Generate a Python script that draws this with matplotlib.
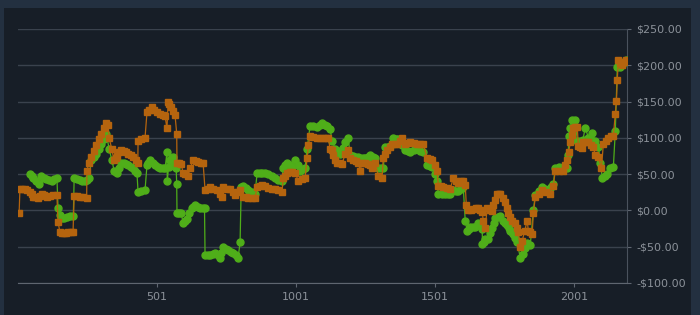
import matplotlib.pyplot as plt
from matplotlib.patches import Rectangle
from matplotlib.ticker import FuncFormatter

# -----------------------------
# data: (index, dollars)
# -----------------------------
orange_pts = [
    (5, -4), (8, 30), (15, 30), (26, 29), (35, 28), (44, 26), (50, 22), (55, 18),
    (63, 18), (73, 17), (80, 20), (87, 22), (95, 21), (105, 19), (116, 20),
    (128, 21), (141, 21), (145, -16), (152, -30), (160, -31), (167, -31),
    (174, -31), (182, -30), (190, -30), (199, -30), (203, 20), (212, 20),
    (224, 19), (236, 18), (248, 17), (249, 55), (256, 65), (264, 73), (273, 82),
    (282, 90), (291, 98), (300, 106), (309, 113), (318, 120), (325, 118),
    (329, 100), (338, 85), (347, 69), (352, 72), (357, 75), (364, 80), (372, 83),
    (381, 82), (390, 80), (398, 78), (406, 76), (415, 73), (424, 70), (432, 66),
    (433, 96), (445, 98), (458, 100), (465, 135), (474, 139), (483, 142),
    (492, 138), (501, 135), (512, 133), (523, 131), (530, 130), (537, 113),
    (541, 149), (546, 146), (552, 143), (559, 137), (566, 131), (572, 106),
    (573, 66), (581, 66), (588, 64), (595, 52), (602, 50), (613, 48), (620, 58),
    (631, 69), (640, 68), (649, 67), (658, 66), (667, 65), (674, 28), (683, 30),
    (692, 32), (704, 30), (717, 28), (726, 22), (735, 18), (739, 32), (752, 30),
    (764, 29), (773, 25), (782, 21), (791, 25), (800, 28), (811, 18), (820, 18),
    (829, 17), (842, 17), (854, 17), (861, 32), (870, 34), (879, 35), (890, 33),
    (901, 31), (914, 30), (926, 30), (938, 28), (951, 25), (955, 44), (962, 48),
    (969, 52), (978, 53), (987, 53), (998, 52), (1009, 41), (1022, 43),
    (1034, 45), (1041, 72), (1046, 90), (1052, 103), (1064, 101), (1077, 100),
    (1088, 100), (1099, 100), (1108, 100), (1117, 100), (1124, 85), (1131, 83),
    (1135, 76), (1142, 70), (1149, 66), (1158, 65), (1167, 64), (1178, 78),
    (1189, 83), (1196, 72), (1207, 70), (1216, 68), (1225, 66), (1232, 55),
    (1239, 66), (1250, 65), (1261, 64), (1268, 62), (1275, 59), (1286, 66),
    (1297, 48), (1311, 45), (1315, 72), (1322, 78), (1329, 83), (1338, 88),
    (1347, 92), (1356, 92), (1365, 92), (1374, 96), (1383, 100), (1394, 92),
    (1403, 93), (1412, 94), (1424, 93), (1437, 92), (1448, 92), (1459, 92),
    (1473, 72), (1482, 71), (1491, 70), (1500, 62), (1509, 55), (1513, 34),
    (1522, 33), (1531, 32), (1543, 31), (1556, 30), (1567, 44), (1576, 41),
    (1585, 38), (1594, 40), (1603, 41), (1610, 35), (1614, 7), (1621, 0),
    (1630, 1), (1639, 2), (1648, 3), (1657, 4), (1664, 1), (1671, -2),
    (1675, -14), (1682, -24), (1689, 3), (1698, 1), (1707, -1), (1711, 7),
    (1718, 15), (1725, 23), (1730, 23), (1736, 23), (1745, 17), (1754, 11),
    (1760, 4), (1765, -4), (1772, -9), (1779, -14), (1790, -18), (1795, -24),
    (1801, -30), (1808, -51), (1815, -42), (1824, -28), (1833, -14), (1837, -28),
    (1844, -30), (1851, -32), (1855, -4), (1862, 18), (1874, 23), (1887, 28),
    (1900, 26), (1916, 23), (1927, 34), (1934, 55), (1948, 55), (1963, 55),
    (1970, 62), (1977, 69), (1982, 80), (1988, 94), (1993, 104), (1999, 113),
    (2006, 115), (2013, 115), (2017, 89), (2024, 87), (2031, 86), (2035, 94),
    (2044, 94), (2053, 94), (2062, 90), (2071, 87), (2078, 76), (2089, 74),
    (2100, 58), (2107, 92), (2116, 96), (2125, 100), (2134, 102), (2143, 103),
    (2150, 133), (2154, 151), (2157, 180), (2161, 207), (2168, 203), (2175, 200),
    (2182, 204), (2188, 207),
]

green_pts = [
    (44, 50), (50, 47), (55, 44), (66, 40), (77, 37), (84, 47), (93, 45),
    (102, 43), (112, 42), (123, 41), (132, 43), (141, 45), (145, 4), (152, -6),
    (159, -10), (168, -10), (177, -9), (188, -8), (200, -8), (203, 44),
    (214, 43), (224, 42), (233, 41), (242, 40), (250, 42), (257, 44), (264, 69),
    (273, 74), (282, 78), (291, 85), (300, 92), (309, 99), (318, 106), (329, 85),
    (338, 70), (347, 55), (352, 53), (357, 52), (364, 59), (372, 66), (381, 65),
    (390, 64), (398, 62), (406, 60), (415, 58), (422, 55), (429, 52), (433, 25),
    (445, 27), (458, 28), (465, 62), (470, 66), (476, 69), (485, 66), (494, 62),
    (503, 60), (512, 58), (521, 58), (530, 58), (537, 80), (538, 41), (543, 60),
    (548, 69), (553, 71), (559, 73), (565, 66), (570, 59), (572, 37), (573, -3),
    (580, -3), (588, -3), (595, -18), (602, -15), (609, -12), (618, -4),
    (627, 3), (632, 5), (638, 7), (647, 5), (656, 4), (665, 4), (672, 3),
    (674, -62), (683, -62), (692, -62), (701, -60), (710, -58), (719, -62),
    (728, -66), (733, -58), (739, -51), (748, -53), (757, -55), (766, -57),
    (775, -59), (784, -62), (793, -65), (800, -44), (804, 32), (811, 34),
    (820, 31), (829, 28), (842, 25), (854, 23), (861, 51), (870, 52), (879, 52),
    (890, 51), (901, 50), (914, 47), (926, 44), (938, 42), (951, 41), (955, 58),
    (962, 62), (969, 66), (978, 63), (987, 60), (998, 69), (1009, 62),
    (1016, 55), (1025, 57), (1034, 59), (1041, 85), (1052, 117), (1064, 116),
    (1077, 115), (1086, 118), (1095, 120), (1104, 118), (1113, 117), (1124, 112),
    (1131, 96), (1142, 85), (1151, 82), (1160, 78), (1169, 86), (1178, 94),
    (1189, 100), (1196, 76), (1205, 75), (1214, 74), (1223, 73), (1232, 72),
    (1241, 72), (1250, 72), (1259, 74), (1268, 76), (1277, 74), (1286, 72),
    (1297, 58), (1306, 58), (1315, 58), (1322, 87), (1331, 88), (1340, 89),
    (1351, 100), (1360, 99), (1369, 98), (1382, 90), (1394, 83), (1403, 82),
    (1412, 81), (1424, 83), (1437, 85), (1448, 82), (1459, 80), (1473, 62),
    (1482, 61), (1491, 60), (1500, 50), (1509, 41), (1513, 23), (1525, 22),
    (1538, 22), (1547, 22), (1556, 23), (1567, 28), (1576, 27), (1585, 27),
    (1594, 30), (1603, 32), (1610, -14), (1617, -28), (1622, -25), (1628, -23),
    (1637, -23), (1646, -23), (1657, -17), (1665, -21), (1671, -26),
    (1672, -46), (1677, -43), (1682, -40), (1693, -39), (1700, -31),
    (1707, -24), (1712, -17), (1718, -11), (1727, -9), (1736, -8), (1747, -14),
    (1754, -17), (1761, -20), (1766, -24), (1772, -28), (1777, -30),
    (1783, -32), (1790, -38), (1797, -44), (1808, -65), (1819, -60),
    (1826, -52), (1833, -45), (1844, -48), (1855, 0), (1862, 21), (1875, 27),
    (1887, 32), (1898, 30), (1909, 28), (1918, 32), (1927, 37), (1934, 59),
    (1948, 60), (1963, 60), (1977, 59), (1981, 76), (1982, 103), (1988, 114),
    (1995, 124), (2006, 125), (2013, 96), (2024, 96), (2033, 97), (2042, 114),
    (2053, 100), (2060, 99), (2067, 107), (2078, 96), (2089, 88), (2096, 66),
    (2103, 45), (2112, 48), (2121, 50), (2132, 59), (2143, 60), (2150, 110),
    (2157, 197), (2166, 198), (2175, 200), (2182, 204), (2188, 207),
]

xticks = [501, 1001, 1501, 2001]
yticks = [-100, -50, 0, 50, 100, 150, 200, 250]

orange_x, orange_y = zip(*orange_pts)
green_x, green_y = zip(*green_pts)

# -----------------------------
# plot
# -----------------------------
fig = plt.figure(figsize=(7, 3.15), dpi=100)
fig.patch.set_facecolor("#233040")
fig.patches.append(Rectangle((4 / 700, 0), 687 / 700, 307 / 315,
                             transform=fig.transFigure, facecolor="#171e27",
                             edgecolor="none", zorder=-10))

ax = fig.add_axes([18 / 700, 32 / 315, 609 / 700, 254 / 315])
ax.set_facecolor("#171e27")

ax.plot(green_x, green_y, color="#4fae19", lw=0.9, marker="o", ms=5,
        mec="#4fae19", zorder=3)
ax.plot(orange_x, orange_y, color="#b5640e", lw=0.9, marker="s", ms=4.8,
        mec="#b5640e", zorder=4)

ax.set_xlim(1, 2192)
ax.set_ylim(-100, 250)
ax.set_xticks(xticks)
ax.set_yticks(yticks)
ax.yaxis.tick_right()


def money(v, pos):
    return f"-${abs(v):.2f}" if v < 0 else f"${v:.2f}"


ax.yaxis.set_major_formatter(FuncFormatter(money))
ax.grid(axis="y", color="#3a424d", lw=1)
ax.tick_params(colors="#5f6670", labelcolor="#8b9199", labelsize=8, length=3)
for side in ["top", "left"]:
    ax.spines[side].set_visible(False)
ax.spines["right"].set_color("#4a525d")
ax.spines["bottom"].set_color("#5f6670")

plt.savefig("out.png", facecolor=fig.get_facecolor())
